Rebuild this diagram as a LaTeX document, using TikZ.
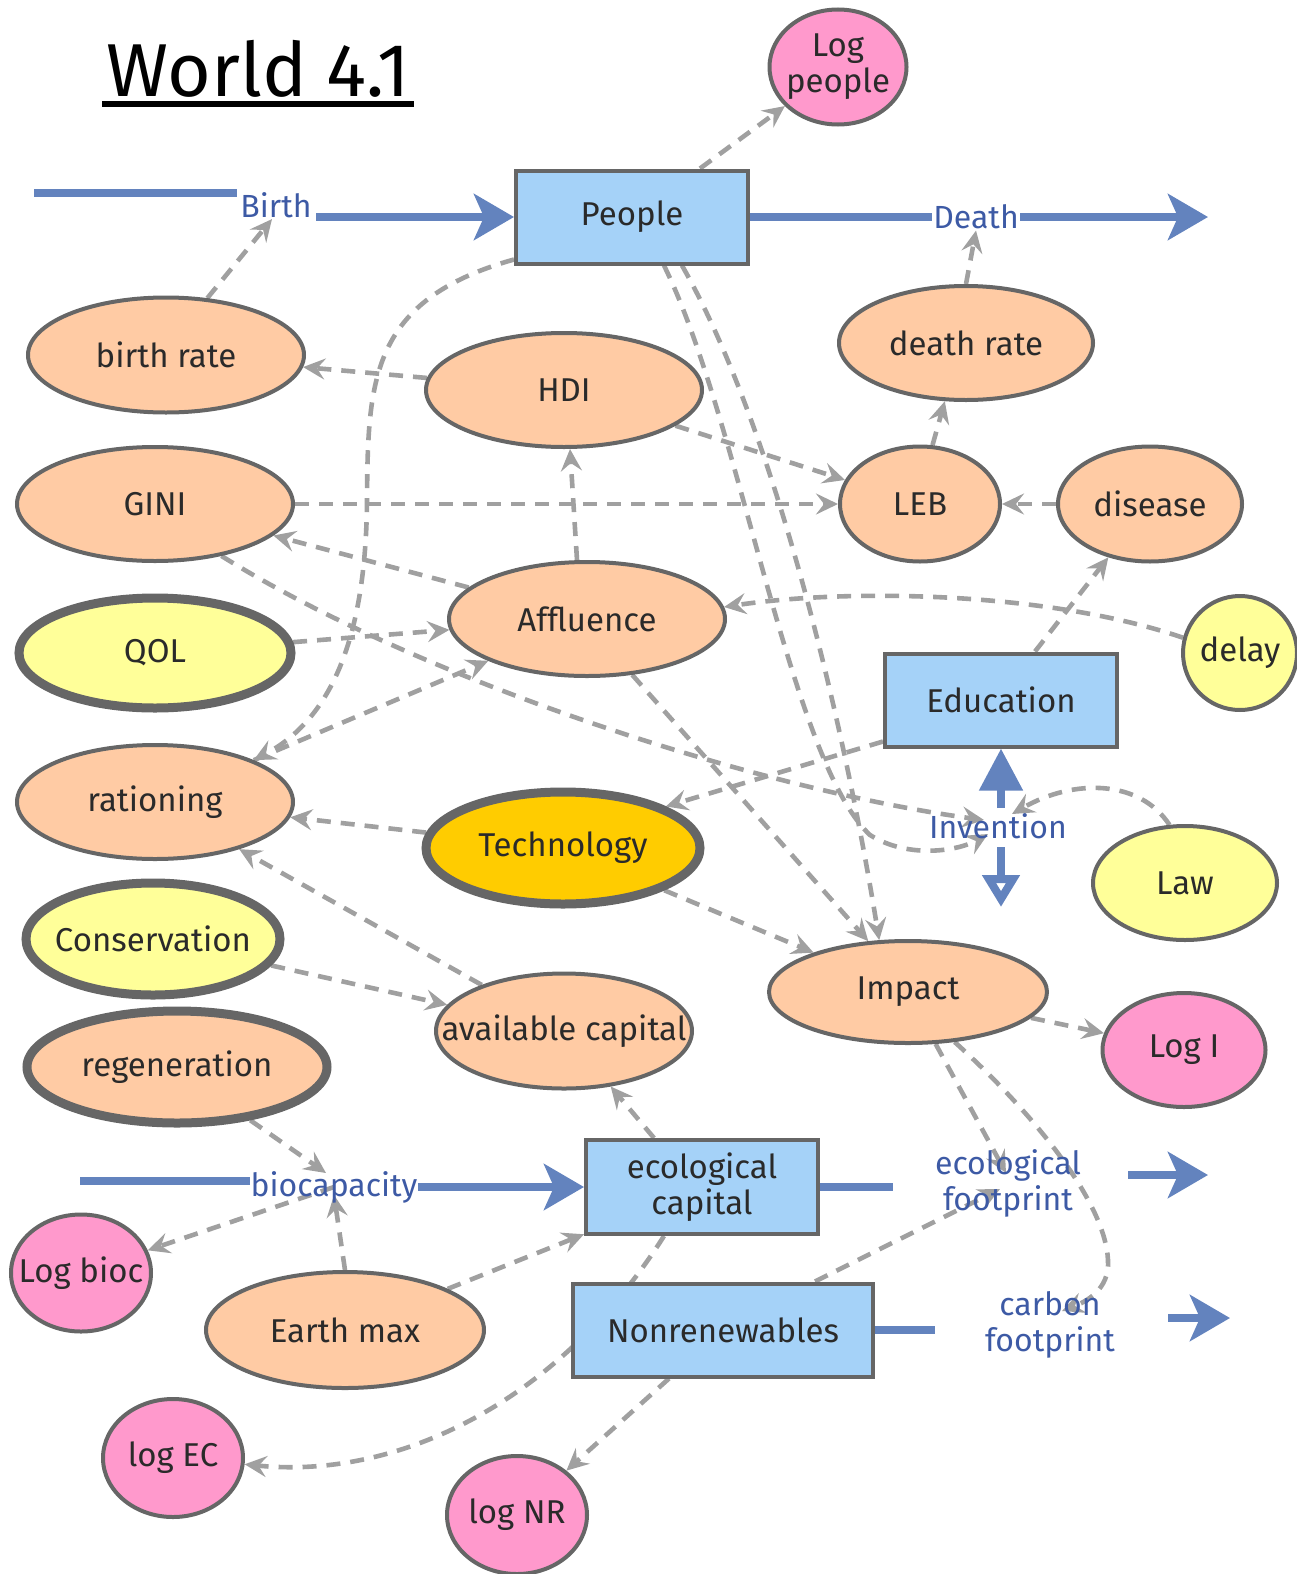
\documentclass[tikz,border=0pt]{standalone}
\usepackage{fontspec}
\setmainfont{Fira Sans}
\usetikzlibrary{shapes.geometric,arrows.meta,backgrounds}

\definecolor{peach}{HTML}{FFCBA4}
\definecolor{sky}{HTML}{A5D2F8}
\definecolor{lemon}{HTML}{FFFF99}
\definecolor{gold}{HTML}{FFCC00}
\definecolor{rose}{HTML}{FF99CC}
\definecolor{rim}{HTML}{666666}
\definecolor{linkgray}{HTML}{A0A0A0}
\definecolor{flowblue}{HTML}{6383BE}
\definecolor{labelblue}{HTML}{3D5AA5}
\definecolor{ink}{HTML}{2A2A2A}

% text of an ellipse: the given size, not the text, sets the shape
\newcommand\ctr[1]{\makebox[0pt]{#1}}
\newcommand\twolines[2]{\makebox[0pt]{\begin{tabular}{@{}c@{}}#1\\#2\end{tabular}}}

\tikzset{
  base/.style={draw=rim, line width=2pt, text=ink, inner sep=0pt, align=center,
    font=\fontsize{16.5}{18}\selectfont},
  aux/.style={base, ellipse, fill=peach},
  stock/.style={base, rectangle, fill=sky},
  const/.style={base, ellipse, fill=lemon},
  logv/.style={base, ellipse, fill=rose},
  heavy/.style={line width=4.5pt},
  flowlabel/.style={text=labelblue, inner sep=0.5pt, align=center,
    font=\fontsize{16}{18}\selectfont},
  flowpipe/.style={draw=flowblue, line width=4pt},
  flowarrow/.style={flowpipe, -{Stealth[length=20pt,width=23pt,inset=5pt]}},
  link/.style={draw=linkgray, line width=2.3pt, dash pattern=on 7pt off 5pt,
    -{Stealth[length=11pt,width=10.5pt,inset=4pt]}},
}

\begin{document}
\begin{tikzpicture}[x=0.5pt,y=-0.5pt]
\useasboundingbox (0,0) rectangle (1296,1574);

% title
\node[inner sep=0pt, anchor=base, text=black, font=\fontsize{37.5}{40}\selectfont] (title) at (258,96) {World 4.1};
\draw[line width=2.6pt] ([xshift=-2pt,yshift=-4pt]title.base west) -- ([xshift=2pt,yshift=-4pt]title.base east);

% stocks
\node[stock, minimum width=116pt, minimum height=46.5pt] (people) at (632,217) {People};
\node[stock, minimum width=116pt, minimum height=46.5pt] (education) at (1001,700) {Education};
\node[stock, minimum width=116pt, minimum height=47pt] (ecocap) at (702,1187) {ecological\\capital};
\node[stock, minimum width=150pt, minimum height=46.5pt] (nonren) at (723,1330) {Nonrenewables};

% converters
\node[logv, minimum width=68.5pt, minimum height=57.5pt] (logpeople) at (838,67) {\twolines{Log}{people}};
\node[aux, minimum width=138pt, minimum height=57.5pt] (birthrate) at (166,355) {\ctr{birth rate}};
\node[aux, minimum width=138pt, minimum height=57pt] (hdi) at (564,390) {\ctr{HDI}};
\node[aux, minimum width=127pt, minimum height=57pt] (deathrate) at (966,343) {\ctr{death rate}};
\node[aux, minimum width=138pt, minimum height=57pt] (gini) at (155,504) {\ctr{GINI}};
\node[aux, minimum width=80pt, minimum height=57.5pt] (leb) at (920,504) {\ctr{LEB}};
\node[aux, minimum width=92pt, minimum height=57.5pt] (disease) at (1150,504) {\ctr{disease}};
\node[aux, minimum width=138pt, minimum height=57pt] (affluence) at (587,619) {\ctr{Affluence}};
\node[const, heavy, minimum width=136pt, minimum height=55pt] (qol) at (155,653) {\ctr{QOL}};
\node[const, minimum width=57pt, minimum height=57pt] (delay) at (1240,653) {\ctr{delay}};
\node[aux, minimum width=138pt, minimum height=57pt] (rationing) at (155,802) {\ctr{rationing}};
\node[base, ellipse, fill=gold, heavy, minimum width=137pt, minimum height=56pt] (technology) at (563,848) {\ctr{Technology}};
\node[const, minimum width=92pt, minimum height=57pt] (law) at (1185,883) {\ctr{Law}};
\node[const, heavy, minimum width=127pt, minimum height=56pt] (conservation) at (153,939) {\ctr{Conservation}};
\node[aux, minimum width=139pt, minimum height=51pt] (impact) at (908,992) {\ctr{Impact}};
\node[aux, minimum width=128pt, minimum height=57.5pt] (availcap) at (564,1031) {\ctr{available capital}};
\node[aux, heavy, minimum width=150pt, minimum height=56pt] (regeneration) at (177,1067) {\ctr{regeneration}};
\node[logv, minimum width=81.5pt, minimum height=57pt] (logi) at (1184,1050) {\ctr{Log I}};
\node[logv, minimum width=70pt, minimum height=58.5pt] (logbioc) at (81,1273) {\ctr{Log bioc}};
\node[aux, minimum width=139pt, minimum height=58pt] (earthmax) at (345,1330) {\ctr{Earth max}};
\node[logv, minimum width=70pt, minimum height=59pt] (logec) at (173,1458) {\ctr{log EC}};
\node[logv, minimum width=70pt, minimum height=59pt] (lognr) at (517,1515) {\ctr{log NR}};

% flow valves
\node[flowlabel] (birth) at (276,205) {Birth};
\node[flowlabel] (death) at (976,217) {Death};
\node[flowlabel] (invention) at (998,826) {Invention};
\node[flowlabel] (biocap) at (334,1187) {biocapacity};
\node[flowlabel] (ecofoot) at (1008,1183) {ecological\\footprint};
\node[flowlabel] (carbfoot) at (1050,1325) {carbon\\footprint};

% free ends of the flow pipes
\coordinate (birthsrc) at (34,193);
\coordinate (birthsrcend) at (237,193);
\coordinate (birthin) at (316,217);
\coordinate (deathsink) at (1208,217);
\coordinate (invup) at (1001,808);
\coordinate (invdown) at (1001,847);
\coordinate (invsink) at (1001,907);
\coordinate (biosrc) at (80,1181);
\coordinate (biosrcend) at (250,1181);
\coordinate (bioin) at (418,1187);
\coordinate (ecoout) at (893,1187);
\coordinate (ecoarrow) at (1128,1175);
\coordinate (ecosink) at (1208,1175);
\coordinate (carbout) at (935,1330);
\coordinate (carbarrow) at (1168,1318);
\coordinate (carbsink) at (1230,1318);

% flows
\draw[flowpipe] (birthsrc) -- (birthsrcend);
\draw[flowarrow] (birthin) -- (people.west);
\draw[flowpipe] (people.east) -- (death.west);
\draw[flowarrow] (death.east) -- (deathsink);
\draw[flowpipe, -{Triangle[length=21pt,width=21pt]}] (invup) -- (education.south);
\draw[flowpipe, -{Triangle[open,length=16pt,width=18pt,line width=4.5pt]}] (invdown) -- (invsink);
\draw[flowpipe] (biosrc) -- (biosrcend);
\draw[flowarrow] (bioin) -- (ecocap.west);
\draw[flowpipe] (ecocap.east) -- (ecoout);
\draw[flowarrow] (ecoarrow) -- (ecosink);
\draw[flowpipe] (nonren.east) -- (carbout);
\draw[flowarrow] (carbarrow) -- (carbsink);

% information links
\begin{scope}[on background layer]
\draw[link] (birthrate.54) -- ([xshift=-2pt]birth.south);
\draw[link] ([xshift=34pt]people.north) -- (logpeople);
\draw[link] (deathrate.north) -- (death.south);
\draw[link] (hdi) -- (birthrate);
\draw[link] (hdi) -- (leb);
\draw[link] ([yshift=3pt]people.south west) .. controls (370,300) and (368,380) .. (367,500)
  .. controls (366,640) and (330,720) .. (rationing.23);
\draw[link] (gini) -- (leb);
\draw[link] (affluence) -- (gini);
\draw[link] ([xshift=-5pt]affluence.north) -- ([xshift=3pt]hdi.south);
\draw[link] (gini.-38) .. controls (420,680) and (760,790) .. ([xshift=-7pt,yshift=3pt]invention.center);
\draw[link] (qol) -- (affluence);
\draw[link] (rationing) -- (affluence);
\draw[link] (delay.165) .. controls (1050,592) and (850,588) .. (affluence.5);
\draw[link] ([xshift=17pt]education.north) -- (disease.232);
\draw[link] ([yshift=3.5pt]education.south west) -- (technology.22);
\draw[link] (technology) -- (rationing);
\draw[link] (technology) -- (impact);
\draw[link] (affluence.-51) -- (impact.128);
\draw[link] ([xshift=25pt]people.south) .. controls (770,420) and (840,700) .. (impact.119);
\draw[link] ([xshift=16pt]people.south) .. controls (740,420) and (790,760) .. (870,835)
  .. controls (910,860) and (960,850) .. ([xshift=-5pt,yshift=-4pt]invention.center);
\draw[link] (law.105) .. controls (1140,780) and (1075,778) .. ([xshift=7pt,yshift=6pt]invention.center);
\draw[link] (leb.78) -- (deathrate.-110);
\draw[link] (disease) -- (leb);
\draw[link] (impact) -- (logi);
\draw[link] (impact.-62) -- ([xshift=-1pt,yshift=5pt]ecofoot.center);
\draw[link] ([xshift=46pt]nonren.north) -- ([xshift=-4pt,yshift=-3pt]ecofoot.center);
\draw[link] (impact.-47) .. controls (1030,1110) and (1105,1200) .. (1108,1260)
  .. controls (1110,1290) and (1085,1302) .. ([xshift=6pt,yshift=7pt]carbfoot.center);
\draw[link] (availcap) -- (rationing);
\draw[link] (conservation) -- (availcap);
\draw[link] ([xshift=-24pt]ecocap.north) -- (availcap);
\draw[link] (earthmax) -- (ecocap);
\draw[link] (earthmax.north) -- ([yshift=-4pt]biocap.center);
\draw[link] (regeneration.-36) -- ([xshift=-4pt,yshift=7pt]biocap.center);
\draw[link] (biocap.center) -- (logbioc);
\draw[link] ([xshift=-19pt]ecocap.south) .. controls (560,1400) and (400,1480) .. (logec.-5);
\draw[link] ([xshift=-27pt]nonren.south) -- (lognr);
\end{scope}
\end{tikzpicture}
\end{document}
